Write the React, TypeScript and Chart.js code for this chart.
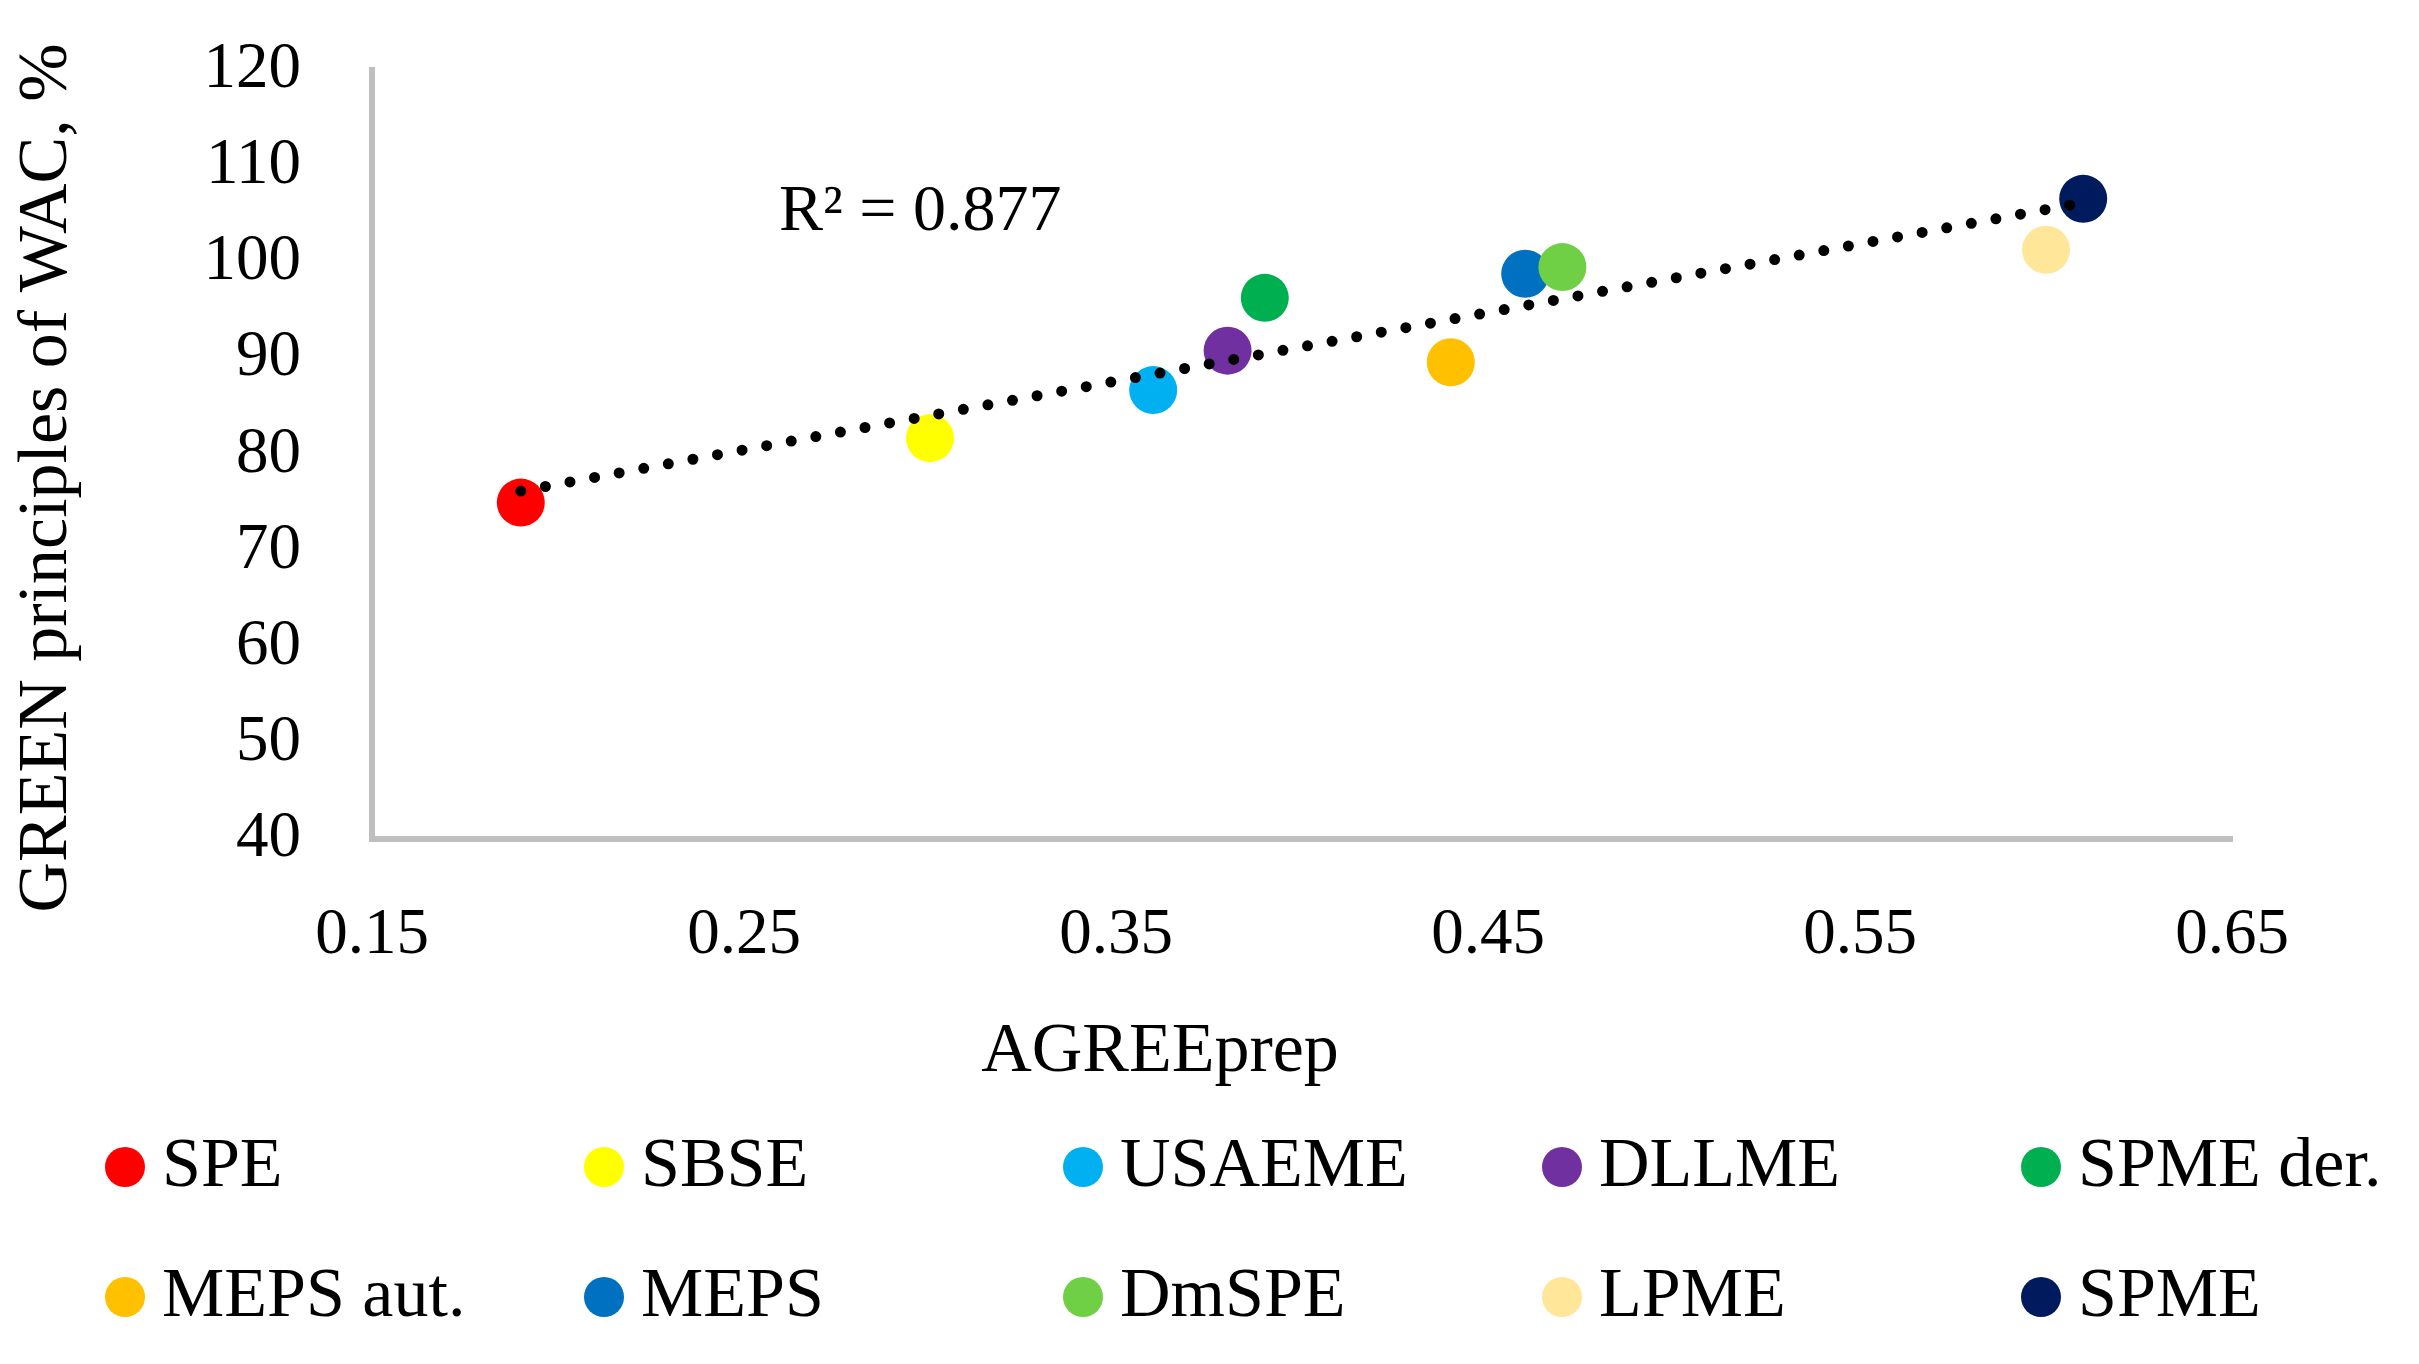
import React, { useEffect, useRef } from 'react';
import { Chart, registerables } from 'chart.js';

Chart.register(...registerables);

const methods = ['SPE', 'SBSE', 'USAEME', 'DLLME', 'SPME der.', 'MEPS aut.', 'MEPS', 'DmSPE', 'LPME', 'SPME'];
const agreePrep = [0.19, 0.30, 0.36, 0.38, 0.39, 0.44, 0.46, 0.47, 0.60, 0.61];
const greenWac = [75.0, 81.7, 86.7, 90.8, 96.3, 89.6, 98.8, 99.5, 101.3, 106.6];
const colors = ['#FF0000', '#FFFF00', '#00B0F0', '#7030A0', '#00B050', '#FFC000', '#0070C0', '#6FCF45', '#FFE699', '#001A5E'];
const trendX = [0.19, 0.61];
const trendY = [76.2, 106.2];
const xTicks = [0.15, 0.25, 0.35, 0.45, 0.55, 0.65];
const yTicks = [40, 50, 60, 70, 80, 90, 100, 110, 120];
const xTitle = 'AGREEprep';
const yTitle = 'GREEN principles of WAC, %';
const r2Label = 'R² = 0.877';
const r2Anchor = [0.2594, 103.4];

const FONT = '"Liberation Serif", "Times New Roman", serif';
const W = 2419;
const H = 1364;

const overlay = {
  id: 'overlay',
  afterDraw(chart: any) {
    const { ctx, scales } = chart;
    ctx.save();
    ctx.fillStyle = '#000';
    ctx.textBaseline = 'alphabetic';
    // R² label
    ctx.font = `66px ${FONT}`;
    ctx.textAlign = 'left';
    ctx.fillText(r2Label, scales.x.getPixelForValue(r2Anchor[0]), scales.y.getPixelForValue(r2Anchor[1]));
    // axis titles
    ctx.font = `70px ${FONT}`;
    ctx.textAlign = 'center';
    ctx.fillText(xTitle, 1160, 1071);
    ctx.save();
    ctx.translate(66, 478);
    ctx.rotate(-Math.PI / 2);
    ctx.fillText(yTitle, 0, 0);
    ctx.restore();
    // legend grid
    ctx.textAlign = 'left';
    methods.forEach((m, i) => {
      const col = i % 5;
      const row = Math.floor(i / 5);
      const cx = 125 + col * 479;
      const cy = 1167 + row * 130;
      ctx.beginPath();
      ctx.arc(cx, cy, 20, 0, Math.PI * 2);
      ctx.fillStyle = colors[i];
      ctx.fill();
      ctx.fillStyle = '#000';
      ctx.fillText(m, cx + 37, cy + 19);
    });
    ctx.restore();
  },
};

export default function App() {
  const ref = useRef<HTMLCanvasElement | null>(null);

  useEffect(() => {
    document.body.style.margin = '0';
    const canvas = ref.current;
    if (!canvas) return;
    Chart.defaults.font.family = FONT;

    const pointSets = methods.map((m, i) => ({
      type: 'scatter' as const,
      label: m,
      data: [{ x: agreePrep[i], y: greenWac[i] }],
      backgroundColor: colors[i],
      borderWidth: 0,
      pointRadius: 24,
      pointHoverRadius: 24,
      order: -i,
    }));

    const trend = {
      type: 'line' as const,
      label: 'trend',
      data: trendX.map((x, i) => ({ x, y: trendY[i] })),
      borderColor: '#000',
      borderWidth: 11,
      borderDash: [0, 25],
      borderCapStyle: 'round' as const,
      pointRadius: 0,
      fill: false,
      order: -100,
    };

    const chart = new Chart(canvas, {
      type: 'scatter',
      data: { datasets: [trend as any, ...pointSets] },
      options: {
        responsive: false,
        animation: false,
        devicePixelRatio: 1,
        events: [],
        layout: { padding: { left: 0, top: 70, right: W - 2232, bottom: 0 } },
        plugins: { legend: { display: false }, tooltip: { enabled: false } },
        scales: {
          x: {
            type: 'linear',
            min: 0.15,
            max: 0.65,
            afterBuildTicks: (s: any) => { s.ticks = xTicks.map((v) => ({ value: v })); },
            afterFit: (s: any) => { s.height = H - 839; s.paddingLeft = 0; s.paddingRight = 0; },
            grid: { display: true, color: 'transparent', drawTicks: false },
            border: { display: true, color: '#BFBFBF', width: 6 },
            ticks: {
              padding: 58,
              color: '#000',
              font: { size: 65, family: FONT },
              maxRotation: 0,
              callback: (v: any) => Number(v).toFixed(2),
            },
          },
          y: {
            type: 'linear',
            min: 40,
            max: 120,
            afterBuildTicks: (s: any) => { s.ticks = yTicks.map((v) => ({ value: v })); },
            afterFit: (s: any) => { s.width = 372; s.paddingTop = 0; s.paddingBottom = 0; },
            grid: { display: true, color: 'transparent', drawTicks: false },
            border: { display: true, color: '#BFBFBF', width: 6 },
            ticks: {
              padding: 71,
              color: '#000',
              font: { size: 65, family: FONT },
              callback: (v: any) => String(v),
            },
          },
        },
      },
      plugins: [overlay],
    });

    return () => chart.destroy();
  }, []);

  return (
    <div style={{ position: 'fixed', left: 0, top: 0, width: W, height: H, background: '#fff' }}>
      <canvas ref={ref} width={W} height={H} style={{ width: W, height: H, display: 'block' }} />
    </div>
  );
}
